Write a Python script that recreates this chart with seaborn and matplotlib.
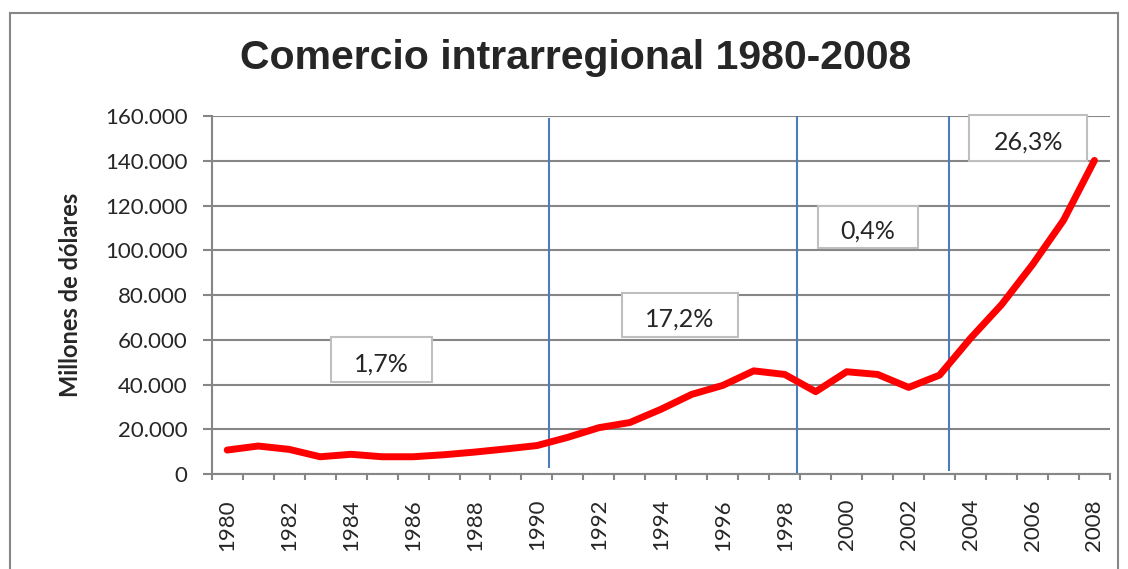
import numpy as np
import pandas as pd
import matplotlib
matplotlib.use("Agg")
import matplotlib.pyplot as plt
from matplotlib.patches import Rectangle
from matplotlib.ticker import FuncFormatter, MultipleLocator
import seaborn as sns

# --- DATOS ---
years = list(range(1980, 2009))
comercio = [10700, 12500, 11000, 7700, 8800, 7700, 7700, 8600, 9800, 11200,
            12700, 16400, 20700, 23000, 28900, 35600, 39600, 46100, 44500, 36800,
            45700, 44500, 38700, 44200, 60700, 75700, 93600, 113400, 140200]
tasas = ["1,7%", "17,2%", "0,4%", "26,3%"]
cortes = [1990.4, 1998.4, 2003.3]   # limites de los periodos

# --- ESTILO ---
sns.set_style("white")
plt.rcParams['font.family'] = ['Lato', 'DejaVu Sans']
GRAY = "#868686"

df = pd.DataFrame({"year": years, "valor": comercio})

fig = plt.figure(figsize=(11.28, 5.69), dpi=100)
ax = fig.add_axes([0.1877, 0.167, 0.7963, 0.629])

sns.lineplot(data=df, x="year", y="valor", color="#ff0000", linewidth=5,
             ax=ax, zorder=3, solid_capstyle="round")

ax.set_xlim(1979.5, 2008.5)
ax.set_ylim(0, 160000)
ax.set_xlabel("")
ax.set_ylabel("")

# eje y
ax.yaxis.set_major_locator(MultipleLocator(20000))
ax.yaxis.set_major_formatter(FuncFormatter(lambda v, p: f"{int(v):,}".replace(",", ".")))
ax.grid(axis="y", color=GRAY, linewidth=1.5)
ax.grid(axis="x", visible=False)
ax.set_axisbelow(True)
ax.tick_params(axis="y", length=6.5, width=1.5, color=GRAY, pad=11, labelsize=16,
               left=True)

# eje x: etiquetas cada 2 anos, marcas entre categorias
ax.set_xticks(years[::2])
ax.set_xticklabels([str(y) for y in years[::2]], rotation=90)
ax.set_xticks(np.arange(1979.5, 2009, 1), minor=True)
ax.tick_params(axis="x", which="major", length=0, pad=18, labelsize=16)
ax.tick_params(axis="x", which="minor", length=4.5, width=1.5, color=GRAY,
               bottom=True, direction="out")

for s in ["top", "right"]:
    ax.spines[s].set_visible(False)
for s in ["left", "bottom"]:
    ax.spines[s].set_color(GRAY)
    ax.spines[s].set_linewidth(1.5)

# lineas verticales de los periodos
ax.vlines(cortes, ymin=[2500, 500, 1500], ymax=[159000, 160000, 160000],
          color="#4a7ebb", linewidth=1.5, zorder=2)

# cajas con la tasa de crecimiento de cada periodo
box_pos = [(1984.98, 51100), (1994.61, 71100), (2000.68, 110400), (2005.86, 150300)]
box_w = [3.28, 3.75, 3.23, 3.82]
box_h = [20100, 20000, 18900, 20600]
for txt, (cx, cy), w, h in zip(tasas, box_pos, box_w, box_h):
    ax.add_patch(Rectangle((cx - w / 2, cy - h / 2), w, h, facecolor="white",
                           edgecolor="#bfbfbf", linewidth=1.5, zorder=4, clip_on=False))
    ax.text(cx, cy - 2000, txt, ha="center", va="center", fontsize=18, zorder=5)

# titulo y etiqueta del eje
fig.text(0.5106, 0.898, "Comercio intrarregional 1980-2008", ha="center", va="center",
         fontsize=29.5, fontweight="bold", family=["Liberation Sans", "DejaVu Sans"])
fig.text(71 / 1128, 1 - 295 / 569, "Millones de dólares", rotation=90, ha="center",
         va="center", fontsize=17, fontweight="bold")

# marco exterior del grafico
fig.add_artist(Rectangle((10 / 1128, -0.05), 1108 / 1128, 1.027, transform=fig.transFigure,
                         fill=False, edgecolor=GRAY, linewidth=1.5))

fig.savefig("out.png", dpi=100)
